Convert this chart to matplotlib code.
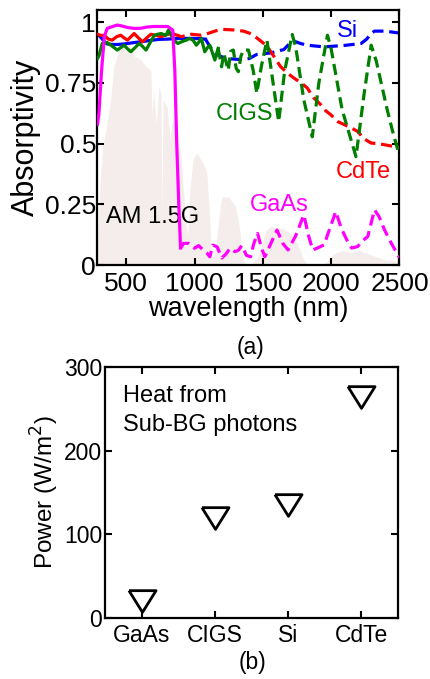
import numpy as np
import matplotlib
matplotlib.use('Agg')
import matplotlib.pyplot as plt

plt.rcParams['font.family'] = ['Liberation Sans', 'DejaVu Sans']

## AM 1.5G spectrum (normalised, background fill)
wl_am = [290, 310, 330, 350, 370, 390, 410, 430, 450, 480, 500, 530, 560, 600, 640, 680,
         690, 700, 720, 740, 755, 762, 770, 800, 820, 840, 870, 900, 920, 935, 950, 965,
         990, 1020, 1060, 1090, 1110, 1125, 1140, 1160, 1180, 1200, 1250, 1300, 1330, 1350,
         1370, 1400, 1430, 1460, 1490, 1520, 1560, 1600, 1650, 1700, 1740, 1780, 1800, 1830,
         1870, 1920, 1960, 1990, 2030, 2080, 2150, 2200, 2250, 2300, 2350, 2400, 2450, 2500]
am15 = [0.10, 0.35, 0.50, 0.55, 0.62, 0.70, 0.82, 0.85, 0.90, 0.90, 0.88, 0.90, 0.86, 0.85, 0.82, 0.80,
        0.62, 0.72, 0.58, 0.74, 0.70, 0.20, 0.68, 0.65, 0.52, 0.60, 0.57, 0.45, 0.30, 0.18, 0.12, 0.30,
        0.44, 0.46, 0.42, 0.38, 0.20, 0.04, 0.03, 0.10, 0.20, 0.28, 0.28, 0.24, 0.15, 0.04,
        0.00, 0.00, 0.01, 0.03, 0.08, 0.14, 0.16, 0.15, 0.15, 0.13, 0.10, 0.05, 0.02, 0.00,
        0.00, 0.00, 0.01, 0.03, 0.05, 0.06, 0.05, 0.06, 0.05, 0.04, 0.03, 0.02, 0.02, 0.01]

## Si
si_wl_a = [290, 310, 340, 361, 400, 440, 480, 509, 560, 620, 680, 740, 800, 860, 920, 980, 1040, 1080]
si_a = [0.95, 0.94, 0.92, 0.91, 0.908, 0.908, 0.91, 0.912, 0.916, 0.92, 0.925, 0.929, 0.93, 0.932,
        0.933, 0.933, 0.932, 0.93]
si_wl_b = [1080, 1112, 1161, 1210, 1259, 1333, 1400, 1456, 1555, 1653, 1702, 1727, 1776, 1825, 1948,
           2096, 2219, 2260, 2293, 2317, 2394, 2500]
si_b = [0.93, 0.90, 0.867, 0.855, 0.849, 0.846, 0.85, 0.867, 0.873, 0.887, 0.915, 0.922, 0.912, 0.905,
        0.898, 0.904, 0.912, 0.93, 0.953, 0.963, 0.963, 0.955]

## CdTe
cdte_wl_a = [290, 310, 340, 370, 398, 430, 460, 485, 509, 535, 558, 590, 620, 650, 681, 720, 755, 790, 829, 850]
cdte_a = [0.95, 0.946, 0.945, 0.93, 0.926, 0.94, 0.946, 0.935, 0.926, 0.94, 0.953, 0.935, 0.919, 0.935,
          0.95, 0.945, 0.94, 0.948, 0.953, 0.95]
cdte_wl_b = [850, 880, 903, 940, 977, 1013, 1050, 1080, 1112, 1160, 1210, 1280, 1358, 1400, 1456, 1490,
             1530, 1580, 1628, 1680, 1727, 1780, 1825, 1870, 1924, 1960, 1997, 2050, 2096, 2145, 2194,
             2240, 2293, 2340, 2391, 2440, 2500]
cdte_b = [0.95, 0.945, 0.94, 0.945, 0.95, 0.948, 0.946, 0.95, 0.956, 0.965, 0.97, 0.968, 0.963, 0.955,
          0.935, 0.92, 0.901, 0.86, 0.818, 0.79, 0.77, 0.75, 0.729, 0.69, 0.66, 0.635, 0.619, 0.59,
          0.578, 0.565, 0.55, 0.52, 0.502, 0.50, 0.495, 0.49, 0.485]

## CIGS
cigs_wl_a = [290, 300, 325, 361, 400, 435, 460, 485, 510, 534, 565, 595, 620, 645, 675, 706, 730, 755,
             780, 792, 809, 829, 850, 878, 910, 940, 964, 990, 1014, 1035, 1050, 1075, 1095, 1112,
             1130, 1149, 1173]
cigs_a = [0.85, 0.86, 0.912, 0.916, 0.90, 0.885, 0.895, 0.905, 0.89, 0.878, 0.895, 0.912, 0.90, 0.885,
          0.915, 0.946, 0.95, 0.953, 0.948, 0.946, 0.967, 0.946, 0.925, 0.912, 0.92, 0.926, 0.933,
          0.925, 0.905, 0.92, 0.933, 0.878, 0.895, 0.905, 0.875, 0.844, 0.892]
cigs_wl_b = [1173, 1198, 1215, 1247, 1265, 1284, 1305, 1321, 1340, 1358, 1395, 1430, 1456, 1490, 1530,
             1575, 1616, 1660, 1715, 1740, 1800, 1862, 1910, 1973, 2000, 2080, 2182, 2240, 2293, 2330,
             2370, 2410, 2450, 2500]
cigs_b = [0.892, 0.816, 0.87, 0.802, 0.88, 0.885, 0.81, 0.796, 0.86, 0.885, 0.885, 0.80, 0.707, 0.82,
          0.926, 0.75, 0.59, 0.80, 0.949, 0.90, 0.68, 0.528, 0.75, 0.946, 0.89, 0.64, 0.446, 0.70,
          0.905, 0.84, 0.74, 0.64, 0.55, 0.45]

## GaAs
gaas_wl_a = [290, 300, 320, 340, 361, 400, 435, 470, 509, 560, 610, 656, 700, 750, 804, 841, 856, 870, 885, 898]
gaas_a = [0.58, 0.62, 0.80, 0.94, 0.974, 0.982, 0.988, 0.984, 0.978, 0.974, 0.975, 0.98, 0.982, 0.982,
          0.982, 0.967, 0.80, 0.50, 0.25, 0.07]
gaas_wl_b = [898, 920, 960, 1000, 1030, 1063, 1090, 1112, 1135, 1165, 1200, 1230, 1260, 1296, 1320,
             1346, 1380, 1410, 1435, 1462, 1490, 1515, 1560, 1604, 1645, 1685, 1740, 1800, 1835, 1865,
             1900, 1948, 1990, 2034, 2075, 2115, 2150, 2194, 2230, 2268, 2317, 2350, 2391, 2440, 2500]
gaas_b = [0.07, 0.089, 0.089, 0.069, 0.08, 0.062, 0.05, 0.034, 0.082, 0.075, 0.029, 0.045, 0.069, 0.055,
          0.06, 0.08, 0.04, 0.034, 0.09, 0.13, 0.07, 0.034, 0.09, 0.144, 0.09, 0.062, 0.12, 0.206, 0.12,
          0.062, 0.07, 0.083, 0.15, 0.22, 0.15, 0.103, 0.07, 0.076, 0.10, 0.117, 0.227, 0.20, 0.144,
          0.09, 0.03]

## panel (b)
cells = ['GaAs', 'CIGS', 'Si', 'CdTe']
power = [20, 120, 135, 264]

fig = plt.figure(figsize=(4.3, 6.79), dpi=100)

# ---------------- (a) absorptivity ----------------
ax1 = fig.add_axes([0.2267, 0.6097, 0.7023, 0.3756])
ax1.fill_between(wl_am, 0, am15, color='#f4edeb', lw=0, zorder=0)

lw = 2.3
dash = (0, (3.5, 1.8))
ax1.plot(si_wl_a, si_a, color='#0000ff', lw=lw, zorder=2)
ax1.plot(si_wl_b, si_b, color='#0000ff', lw=lw, ls=dash, zorder=2)
ax1.plot(cdte_wl_a, cdte_a, color='#ff0000', lw=lw, zorder=3)
ax1.plot(cdte_wl_b, cdte_b, color='#ff0000', lw=lw, ls=dash, zorder=3)
ax1.plot(cigs_wl_a, cigs_a, color='#007f00', lw=lw, zorder=4)
ax1.plot(cigs_wl_b, cigs_b, color='#007f00', lw=lw, ls=dash, zorder=4)
ax1.plot(gaas_wl_a, gaas_a, color='#ff00ff', lw=lw, zorder=5)
ax1.plot(gaas_wl_b, gaas_b, color='#ff00ff', lw=lw, ls=dash, zorder=5)

fs = 17
ax1.text(2117, 0.965, 'Si', color='#0000ff', fontsize=fs, ha='center', va='center')
ax1.text(1367, 0.623, 'CIGS', color='#007f00', fontsize=fs, ha='center', va='center')
ax1.text(2234, 0.382, 'CdTe', color='#ff0000', fontsize=fs, ha='center', va='center')
ax1.text(1623, 0.248, 'GaAs', color='#ff00ff', fontsize=fs, ha='center', va='center')
ax1.text(692, 0.196, 'AM 1.5G', color='black', fontsize=fs, ha='center', va='center')

ax1.set_xlim(290, 2500)
ax1.set_ylim(0, 1.05)
ax1.set_xticks([500, 1000, 1500, 2000, 2500])
ax1.set_yticks([0, 0.25, 0.5, 0.75, 1])
ax1.set_yticklabels(['0', '0.25', '0.5', '0.75', '1'])
ax1.tick_params(direction='in', top=True, right=True, length=5, width=1.5, labelsize=19)
ax1.tick_params(axis='y', pad=1)
ax1.tick_params(axis='x', pad=5)
ax1.set_xlabel('wavelength (nm)', fontsize=19.5, labelpad=0)
ax1.set_ylabel('Absorptivity', fontsize=22, labelpad=3)
for s in ax1.spines.values():
    s.set_linewidth(1.6)

# ---------------- (b) sub-bandgap heat ----------------
ax2 = fig.add_axes([0.2442, 0.0898, 0.6814, 0.3697])
tri = [(-1, 0.8), (1, 0.8), (0, -0.8), (-1, 0.8)]
ax2.plot(range(len(cells)), power, ls='none', marker=tri, ms=19.5, mfc='none', mec='black', mew=2)
ax2.text(0.06, 0.93, 'Heat from\nSub-BG photons', transform=ax2.transAxes, fontsize=17,
         ha='left', va='top', linespacing=1.45)
ax2.set_xlim(-0.5, 3.5)
ax2.set_ylim(0, 300)
ax2.set_xticks(range(len(cells)))
ax2.set_xticklabels(cells)
ax2.set_yticks([0, 100, 200, 300])
ax2.tick_params(direction='in', top=True, right=True, length=5, width=1.5, labelsize=16.5)
ax2.tick_params(axis='y', pad=2)
ax2.tick_params(axis='x', pad=4)
ax2.set_ylabel('Power (W/m$^2$)', fontsize=17.5, labelpad=2)
for s in ax2.spines.values():
    s.set_linewidth(1.6)

fig.text(251 / 430, 1 - 348 / 679, '(a)', fontsize=16.5, ha='center', va='center')
fig.text(253 / 430, 1 - 663 / 679, '(b)', fontsize=16.5, ha='center', va='center')

fig.savefig('out.png', dpi=100)
